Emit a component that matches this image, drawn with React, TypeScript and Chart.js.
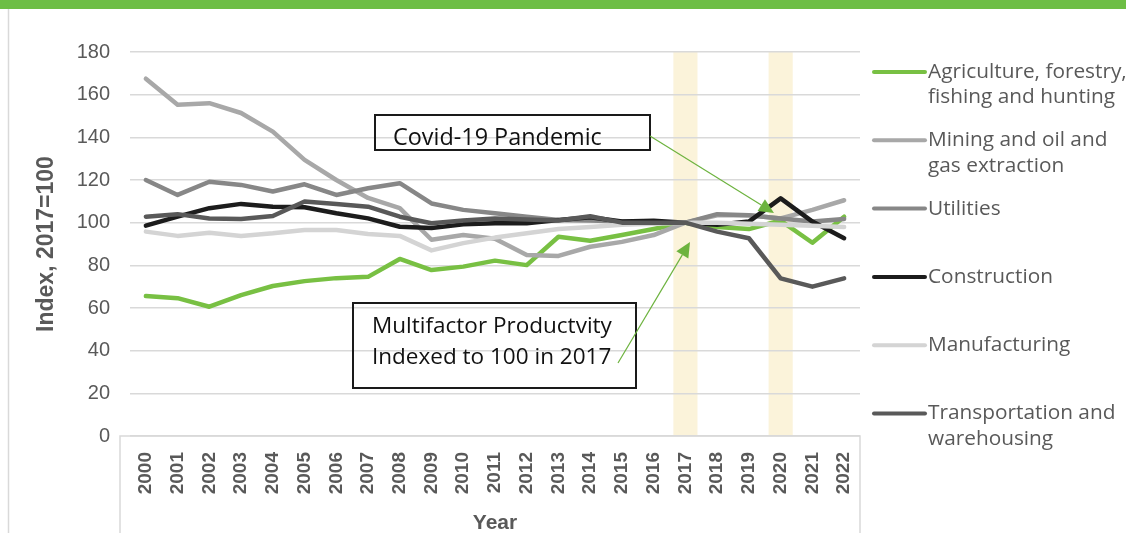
import React, { useEffect, useRef } from "react";
import { Chart, registerables } from "chart.js";

Chart.register(...registerables);

const years = ["2000","2001","2002","2003","2004","2005","2006","2007","2008","2009","2010","2011","2012","2013","2014","2015","2016","2017","2018","2019","2020","2021","2022"];

const agriculture = [65.6, 64.6, 60.6, 66, 70.3, 72.6, 74, 74.6, 83, 77.8, 79.4, 82.2, 80.1, 93.4, 91.5, 94.2, 97, 100, 98, 97, 101, 90.6, 102.8];
const mining = [167.5, 155.3, 156, 151.4, 142.7, 129.4, 120, 111.6, 106.8, 92, 94.2, 92.5, 84.8, 84.4, 88.7, 91, 94.2, 100, 103.5, 103.5, 102, 106, 110.5];
const utilities = [120, 113, 119.2, 117.7, 114.6, 118, 113, 116.1, 118.5, 109, 106, 104.4, 102.8, 101.3, 101, 100.5, 100, 100, 104, 103.5, 102, 100.5, 101.7];
const construction = [98.6, 102.8, 106.8, 108.8, 107.5, 107.2, 104.4, 102, 98.1, 97.5, 99.2, 99.7, 99.7, 101.3, 102.5, 100.5, 100.9, 100, 99, 100.5, 111.4, 100.5, 92.7];
const manufacturing = [95.8, 93.8, 95.3, 93.8, 95, 96.6, 96.6, 94.7, 93.8, 87, 90.4, 93, 95, 97, 98, 99, 99.5, 100, 100, 99.5, 99, 98.5, 98];
const transportation = [102.8, 104, 102, 101.7, 103.1, 109.9, 108.8, 107.5, 102.8, 99.7, 101, 102, 101.5, 101, 103, 100, 100, 100, 95.8, 92.7, 73.9, 70, 73.9];

const seriesNames = [
  ["Agriculture, forestry,", "fishing and hunting"],
  ["Mining and oil and", "gas extraction"],
  ["Utilities"],
  ["Construction"],
  ["Manufacturing"],
  ["Transportation and", "warehousing"],
];
const seriesValues = [agriculture, mining, utilities, construction, manufacturing, transportation];
const seriesColors = ["#78C043", "#A8A8A8", "#878787", "#1C1C1C", "#D4D4D4", "#595959"];

const highlightYears = ["2017", "2020"];
const yTicksMax = 180;
const yTickStep = 20;

const covidLabel = "Covid-19 Pandemic";
const mfpLabel = ["Multifactor Productvity", "Indexed to 100 in 2017"];

const GREY_TEXT = "#595959";
const GRID = "#D9D9D9";
const ARROW = "#6DB33F";

function fitSize(ctx: CanvasRenderingContext2D, text: string, family: string, weight: string, target: number) {
  ctx.font = `${weight} 100px ${family}`;
  const w = ctx.measureText(text).width;
  return (100 * target) / w;
}

function drawArrow(ctx: CanvasRenderingContext2D, x1: number, y1: number, x2: number, y2: number) {
  const ang = Math.atan2(y2 - y1, x2 - x1);
  const hl = 15, hw = 7;
  const bx = x2 - Math.cos(ang) * hl;
  const by = y2 - Math.sin(ang) * hl;
  ctx.save();
  ctx.strokeStyle = ARROW;
  ctx.fillStyle = ARROW;
  ctx.lineWidth = 1.2;
  ctx.beginPath();
  ctx.moveTo(x1, y1);
  ctx.lineTo(bx, by);
  ctx.stroke();
  ctx.beginPath();
  ctx.moveTo(x2, y2);
  ctx.lineTo(bx + Math.sin(ang) * hw, by - Math.cos(ang) * hw);
  ctx.lineTo(bx - Math.sin(ang) * hw, by + Math.cos(ang) * hw);
  ctx.closePath();
  ctx.fill();
  ctx.restore();
}

const decorPlugin = {
  id: "decor",
  beforeDraw(chart: any) {
    const { ctx, chartArea, scales } = chart;
    const x = scales.x;
    const step = x.getPixelForValue(1) - x.getPixelForValue(0);
    ctx.save();
    ctx.fillStyle = "#FBF3DA";
    highlightYears.forEach((yr) => {
      const cx = x.getPixelForValue(years.indexOf(yr));
      const w = step * 0.76;
      ctx.fillRect(cx - w / 2, chartArea.top, w, chartArea.bottom - chartArea.top);
    });
    ctx.restore();
  },
  afterDraw(chart: any) {
    const { ctx, chartArea, scales, width, height } = chart;
    const y0 = scales.y.getPixelForValue(0);
    ctx.save();
    ctx.fillStyle = "#6DBE45";
    ctx.fillRect(0, 0, width, 9);
    ctx.strokeStyle = GRID;
    ctx.lineWidth = 1.5;
    ctx.beginPath();
    ctx.moveTo(8.5, 9);
    ctx.lineTo(8.5, height);
    ctx.stroke();
    ctx.beginPath();
    ctx.moveTo(120, height);
    ctx.lineTo(120, y0);
    ctx.lineTo(chartArea.right, y0);
    ctx.lineTo(chartArea.right, height);
    ctx.stroke();

    const lfam = "'Open Sans', 'Noto Sans', sans-serif";
    const lsize = fitSize(ctx, "Construction", lfam, "400", 125);
    ctx.font = `400 ${lsize}px ${lfam}`;
    ctx.textBaseline = "middle";
    ctx.textAlign = "left";
    seriesNames.forEach((lines, i) => {
      const ly = 72 + i * 68.3;
      ctx.strokeStyle = seriesColors[i];
      ctx.lineWidth = 4;
      ctx.lineCap = "round";
      ctx.beginPath();
      ctx.moveTo(874, ly);
      ctx.lineTo(925, ly);
      ctx.stroke();
      ctx.fillStyle = GREY_TEXT;
      lines.forEach((t, j) => ctx.fillText(t, 928, ly + j * 25.5));
    });

    const afam = "'Open Sans', 'Noto Sans', sans-serif";
    ctx.strokeStyle = "#1A1A1A";
    ctx.lineWidth = 2;
    ctx.lineCap = "butt";
    ctx.strokeRect(375, 115, 275, 35);
    ctx.strokeRect(353, 303, 283, 85);
    ctx.fillStyle = "#111111";
    const cs = fitSize(ctx, covidLabel, afam, "500", 209);
    ctx.font = `500 ${cs}px ${afam}`;
    ctx.fillText(covidLabel, 393, 138);
    const ms = fitSize(ctx, mfpLabel[0], afam, "500", 240);
    ctx.font = `500 ${ms}px ${afam}`;
    ctx.fillText(mfpLabel[0], 372, 326.5);
    ctx.fillText(mfpLabel[1], 372, 358);

    drawArrow(ctx, 650, 136, 774, 213);
    drawArrow(ctx, 618, 363, 690, 242);
    ctx.restore();
  },
};

export default function App() {
  const ref = useRef<HTMLCanvasElement>(null);
  useEffect(() => {
    document.body.style.margin = "0";
    const datasets = seriesValues.map((data, i) => ({
      label: seriesNames[i].join(" "),
      data,
      borderColor: seriesColors[i],
      backgroundColor: seriesColors[i],
      borderWidth: 4.5,
      pointRadius: 0,
      tension: 0,
      borderCapStyle: "round" as const,
      borderJoinStyle: "round" as const,
      order: seriesValues.length - i,
    }));
    const chart = new Chart(ref.current!, {
      type: "line",
      data: { labels: years, datasets },
      options: {
        responsive: false,
        animation: false,
        layout: { padding: { left: 0, right: 266, top: 52, bottom: 0 } },
        plugins: { legend: { display: false }, tooltip: { enabled: false } },
        scales: {
          x: {
            type: "category",
            offset: true,
            grid: { display: false, drawTicks: false },
            border: { display: false },
            ticks: {
              autoSkip: false,
              minRotation: 90,
              maxRotation: 90,
              padding: 16,
              color: GREY_TEXT,
              font: { family: "'Liberation Sans', Arial, sans-serif", size: 19, weight: "bold" },
            },
            title: {
              display: true,
              text: "Year",
              color: GREY_TEXT,
              padding: { top: 0, bottom: -3 },
              font: { family: "'Liberation Sans', Arial, sans-serif", size: 21, weight: "bold" },
            },
            afterFit: (s: any) => { s.height = 97; },
          },
          y: {
            min: 0,
            max: yTicksMax,
            grid: { color: GRID, lineWidth: 1.5, drawTicks: false },
            border: { display: false },
            ticks: {
              stepSize: yTickStep,
              padding: 20,
              color: GREY_TEXT,
              font: { family: "'Liberation Sans', Arial, sans-serif", size: 20 },
            },
            title: {
              display: true,
              text: "Index, 2017=100",
              color: GREY_TEXT,
              padding: { top: 33, bottom: 0 },
              font: { family: "'Liberation Sans', Arial, sans-serif", size: 23, weight: "bold" },
            },
            afterFit: (s: any) => { s.width = 130; },
          },
        },
      },
      plugins: [decorPlugin],
    });
    return () => chart.destroy();
  }, []);
  return (
    <div style={{ position: "absolute", left: 0, top: 0, width: 1126, height: 533, background: "#fff" }}>
      <canvas ref={ref} width={1126} height={533} style={{ display: "block", width: 1126, height: 533 }} />
    </div>
  );
}
